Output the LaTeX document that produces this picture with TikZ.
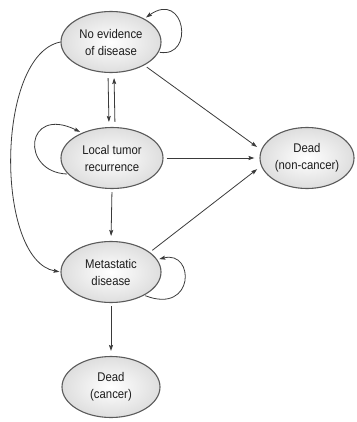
\documentclass[tikz,border=0pt]{standalone}
\usepackage{fontspec}
\setmainfont{Liberation Sans}[FakeStretch=0.9]
\usetikzlibrary{shapes.geometric,arrows.meta}
\definecolor{edgegray}{HTML}{3A3A3A}
\definecolor{rimgray}{HTML}{5A5A5A}
\definecolor{inkgray}{HTML}{1C1C1C}
\begin{document}
\begin{tikzpicture}[x=1pt,y=-1pt,
  state/.style={ellipse, draw=rimgray, line width=1.1pt, inner sep=0pt,
    shade, inner color=white, outer color=gray!26,
    minimum width=100pt, minimum height=61pt,
    align=center, text=inkgray,
    font=\fontsize{12.6}{17}\selectfont},
  link/.style={draw=edgegray, line width=0.8pt,
    -{Stealth[length=6pt,width=4pt,inset=1pt]},
    shorten >=5pt, shorten <=3pt}]
\useasboundingbox (0,0) rectangle (356,422);

\node[state] (A) at (111,42) {No evidence\\of disease};
\node[state, minimum width=102pt] (B) at (112,158) {Local tumor\\recurrence};
\node[state] (C) at (111,272) {Metastatic\\disease};
\node[state, minimum width=94pt] (D) at (307,158) {Dead\\(non-cancer)};
\node[state, minimum width=98pt] (E) at (111,387) {Dead\\(cancer)};

% transitions between states
\draw[link, shorten <=5pt] ([xshift=-3pt]A.south) -- ([xshift=-3pt]B.north);
\draw[link, shorten <=5pt] ([xshift=3pt]B.north) -- ([xshift=3pt]A.south);
\draw[link] (A.-35) -- (D.170);
\draw[link] (B.east) -- (D.west);
\draw[link] (C.27) -- (D.190);
\draw[link] (B.south) -- (C.north);
\draw[link] (C.south) -- (E.north);
\draw[link, shorten <=0pt, shorten >=1pt] (A.west) .. controls (-5,55) and (-5,260) .. (C.west);

% staying in the same state
\draw[link, shorten <=1pt, shorten >=2pt] (A.-12) .. controls (195,58) and (185,-10) .. (A.35);
\draw[link, shorten <=1pt, shorten >=2pt] (B.200) .. controls (20,172) and (25,105) .. (B.140);
\draw[link, shorten <=1pt, shorten >=2pt] (C.-35) .. controls (195,315) and (195,250) .. (C.15);
\end{tikzpicture}
\end{document}
